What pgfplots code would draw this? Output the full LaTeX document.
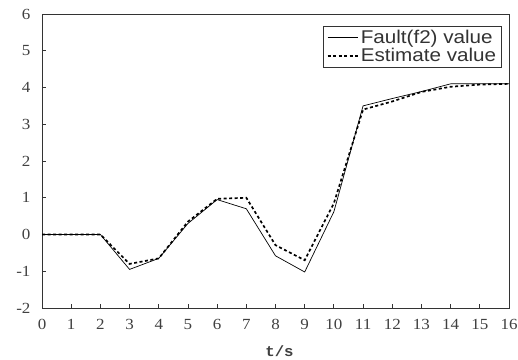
\documentclass[border=0pt]{standalone}
\usepackage{fontspec}
\setmainfont{Liberation Serif}[FakeStretch=1.1]
\newfontfamily\arialf{Liberation Sans}[FakeStretch=1.12]
\newfontfamily\monof{Liberation Mono}[FakeStretch=1.05]
\usepackage{pgfplots}
\pgfplotsset{compat=1.18}
\begin{document}
\begin{tikzpicture}
\begin{axis}[
  at={(0,0)}, anchor=south west,
  scale only axis, width=467bp, height=294bp,
  xmin=0, xmax=16, ymin=-2, ymax=6,
  xtick={0,1,...,16}, ytick={-2,-1,...,6},
  tick align=inside,
  xtick pos=bottom, ytick pos=left,
  major tick length=4bp,
  axis line style={line width=0.9pt, black!80},
  tick style={line width=0.8pt, black!80},
  /pgf/number format/assume math mode=true,
  ticklabel style={font=\fontsize{15.5}{15.5}\selectfont, text=black!75},
  xticklabel style={yshift=-8bp},
  yticklabel style={xshift=-8bp},
  xlabel={\monof\bfseries t/s},
  xlabel style={at={(axis description cs:0.5,0)}, anchor=center, yshift=-43bp, xshift=4bp,
    font=\fontsize{15}{15}\selectfont, text=black!75},
  legend style={at={(rel axis cs:0.984,0.96)}, anchor=north east,
    font=\arialf\fontsize{18.5}{18.5}\selectfont, draw=black!80, line width=0.8pt,
    inner xsep=3bp, inner ysep=2bp, row sep=-0.5bp, text=black!80},
  legend cell align=left,
  legend image code/.code={\draw[#1] (0cm,0cm) -- (0.42in,0cm);},
]
\addplot[black, line width=0.7pt] coordinates {
(0,0) (1,0) (2,0) (3,-0.95) (4,-0.65) (5,0.3) (6,0.95) (7,0.7) (8,-0.58) (9,-1.02) (10,0.62) (11,3.5) (12,3.7) (13,3.89) (14,4.1) (15,4.1) (16,4.1)};
\addlegendentry{Fault(f2) value}
\addplot[black, line width=1.7pt, dash pattern=on 3bp off 2.5bp] coordinates {
(0,0) (1,0) (2,0) (3,-0.8) (4,-0.65) (5,0.35) (6,0.97) (7,1.0) (8,-0.29) (9,-0.7) (10,0.85) (11,3.4) (12,3.62) (13,3.88) (14,4.02) (15,4.08) (16,4.1)};
\addlegendentry{Estimate value}
\end{axis}
\pgfresetboundingbox
\path (-42bp,-52bp) rectangle (476bp,308bp);
\end{tikzpicture}
\end{document}
